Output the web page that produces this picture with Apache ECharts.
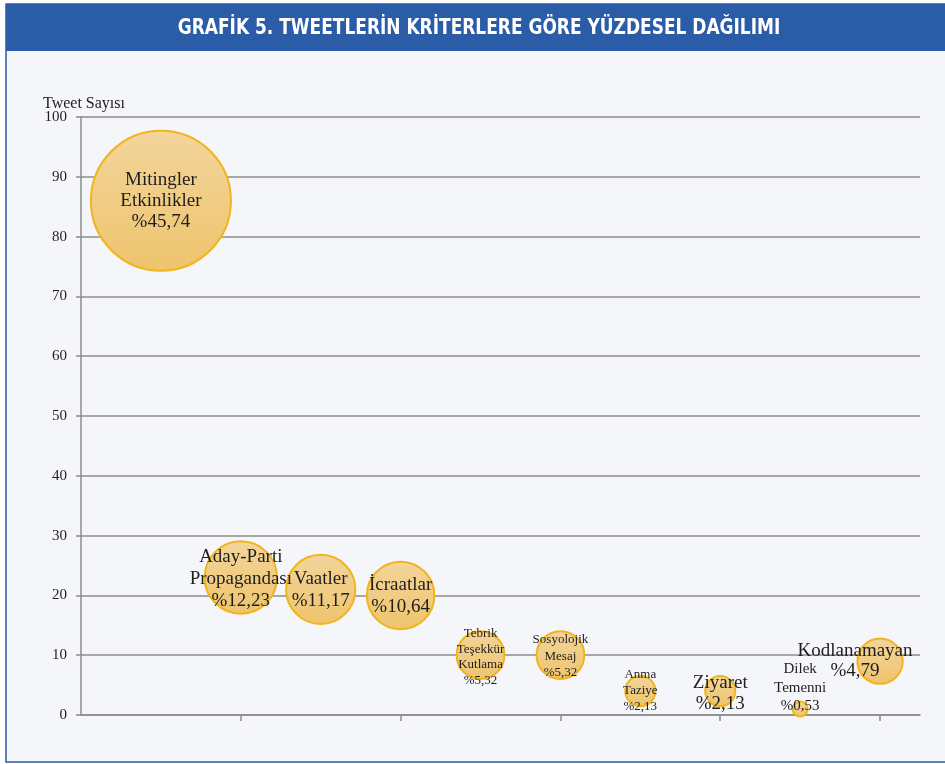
<!DOCTYPE html>
<html>
<head>
<meta charset="utf-8">
<script src="https://cdn.jsdelivr.net/npm/echarts@6/dist/echarts.min.js"></script>
<style>
html,body{margin:0;padding:0;background:#ffffff;}
#chart{width:945px;height:764px;}
</style>
</head>
<body>
<div id="chart"></div>
<script>
// ---- data ----
var categories = [
  'Mitingler\nEtkinlikler',
  'Aday-Parti\nPropagandası',
  'Vaatler',
  'İcraatlar',
  'Tebrik\nTeşekkür\nKutlama',
  'Sosyolojik\nMesaj',
  'Anma\nTaziye',
  'Ziyaret',
  'Dilek\nTemenni',
  'Kodlanamayan'
];
var xPositions = [1, 2, 3, 4, 5, 6, 7, 8, 9, 10];
var tweetCounts = [86, 23, 21, 20, 10, 10, 4, 4, 1, 9];
var percentLabels = ['%45,74', '%12,23', '%11,17', '%10,64', '%5,32', '%5,32', '%2,13', '%2,13', '%0,53', '%4,79'];
var yTicks = [0, 10, 20, 30, 40, 50, 60, 70, 80, 90, 100];
var xTickValues = [2, 4, 6, 8, 10];

// ---- label styles (per bubble) ----
var labelStyles = [
  {fontSize: 19, lineHeight: 21, dx: 0, dy: 0},
  {fontSize: 19, lineHeight: 22, dx: 0, dy: 2},
  {fontSize: 19, lineHeight: 22, dx: 0, dy: 1},
  {fontSize: 19, lineHeight: 22, dx: 0, dy: 1},
  {fontSize: 13, lineHeight: 15.5, dx: 0, dy: 2},
  {fontSize: 13, lineHeight: 16.5, dx: 0, dy: 1},
  {fontSize: 13, lineHeight: 16, dx: 0, dy: -1},
  {fontSize: 19, lineHeight: 21, dx: 0, dy: 2},
  {fontSize: 15, lineHeight: 18.5, dx: 0, dy: -21},
  {fontSize: 19, lineHeight: 20, dx: -25, dy: 0}
];

var maxCount = Math.max.apply(null, tweetCounts);
var seriesData = xPositions.map(function (x, i) {
  var ls = labelStyles[i];
  return {
    name: categories[i],
    value: [x, tweetCounts[i]],
    label: {fontSize: ls.fontSize, lineHeight: ls.lineHeight}
  };
});

var chart = echarts.init(document.getElementById('chart'), null, {renderer: 'canvas'});
var serif = '"Liberation Serif", "Times New Roman", serif';
var gridColor = '#8c8c8c';

chart.setOption({
  animation: false,
  backgroundColor: '#ffffff',
  graphic: [
    {type: 'rect', z: -10, shape: {x: 6, y: 4, width: 945, height: 758},
     style: {fill: '#f5f6fa', stroke: '#2b5ca8', lineWidth: 1.5}},
    {type: 'rect', z: -9, shape: {x: 6, y: 4, width: 945, height: 47},
     style: {fill: '#2b5ca8'}},
    {type: 'text', x: 479, y: 29, scaleX: 0.9, originX: 0, z: 5,
     style: {text: 'GRAFİK 5. TWEETLERİN KRİTERLERE GÖRE YÜZDESEL DAĞILIMI',
       font: 'bold 21px "DejaVu Sans Condensed", "DejaVu Sans", sans-serif',
       fill: '#ffffff', textAlign: 'center', textVerticalAlign: 'middle'}},
    {type: 'text', left: 43, top: 96,
     style: {text: 'Tweet Sayısı', font: '16px ' + serif, fill: '#1e1e1e'}}
  ],
  grid: {left: 81, right: 25, top: 117, bottom: 49, containLabel: false},
  xAxis: {
    type: 'value', min: 0, max: 10.5, interval: 2,
    axisLine: {show: true, lineStyle: {color: gridColor, width: 1.5}},
    axisTick: {show: true, length: 6, inside: false, customValues: xTickValues,
      lineStyle: {color: gridColor, width: 1.5}},
    axisLabel: {show: false},
    splitLine: {show: false}
  },
  yAxis: {
    type: 'value', min: yTicks[0], max: yTicks[yTicks.length - 1], interval: 10,
    axisLine: {show: true, lineStyle: {color: gridColor, width: 1.5}},
    axisTick: {show: true, length: 5, lineStyle: {color: gridColor, width: 1.5}},
    axisLabel: {color: '#1e1e1e', fontSize: 15, fontFamily: serif, margin: 14},
    splitLine: {show: true, lineStyle: {color: gridColor, width: 1.5}}
  },
  series: [{
    type: 'scatter',
    data: seriesData,
    symbolSize: function (val) { return 140 * Math.sqrt(val[1] / maxCount); },
    itemStyle: {
      color: new echarts.graphic.LinearGradient(0, 0, 0, 1, [
        {offset: 0, color: '#f3d59c'},
        {offset: 1, color: '#eec46c'}
      ]),
      borderColor: '#f1b41c', borderWidth: 2, opacity: 1
    },
    label: {
      show: true, position: 'inside', color: '#1e1e1e', fontFamily: serif,
      formatter: function (p) { return p.name + '\n' + percentLabels[p.dataIndex]; }
    },
    labelLayout: function (params) {
      var ls = labelStyles[params.dataIndex];
      return {dx: ls.dx, dy: ls.dy, hideOverlap: false};
    },
    emphasis: {disabled: true}
  }]
});
</script>
</body>
</html>
